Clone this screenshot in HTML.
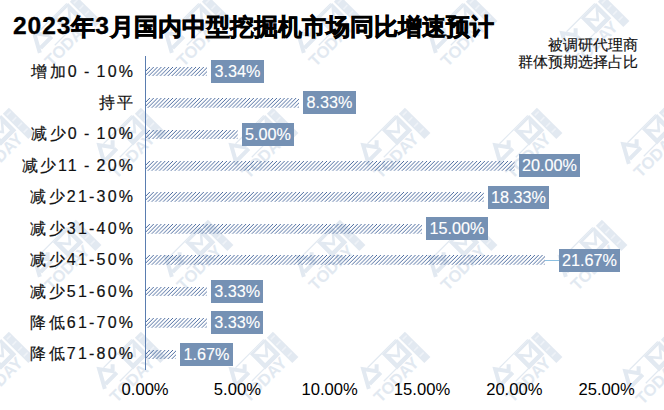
<!DOCTYPE html>
<html><head><meta charset="utf-8">
<style>
html,body{margin:0;padding:0;background:#fff;}
body{width:664px;height:410px;position:relative;overflow:hidden;font-family:"Liberation Sans",sans-serif;}
.title{position:absolute;left:13px;top:11.2px;font-size:23.6px;line-height:30px;font-weight:bold;color:#000;white-space:nowrap;-webkit-text-stroke:0.7px #000;}
.title .d{-webkit-text-stroke:0.3px #000;}
.title .c{position:relative;top:0.8px;}
.title .d{font-size:24.6px;letter-spacing:0.9px;}
.note{position:absolute;right:26.3px;top:37.3px;font-size:14.6px;line-height:17px;text-align:right;color:#111;-webkit-text-stroke:0.15px #111;}
.axis{position:absolute;left:144.9px;top:55.85px;width:1.3px;height:313.9px;background:#5a7db0;}
.cat{position:absolute;right:528.8px;height:20px;line-height:20px;font-size:16px;letter-spacing:2.2px;word-spacing:-1.6px;color:#111;white-space:nowrap;-webkit-text-stroke:0.2px #111;}
.bar{position:absolute;display:block;}
.wmk{position:absolute;left:0;top:0;}
.dl{position:absolute;height:23px;line-height:23px;padding:0 3.4px;background:#7591b4;color:#fff;font-size:16.2px;white-space:nowrap;-webkit-text-stroke:0.15px #fff;}
.leader{position:absolute;height:1px;background:#8cbfe0;}
.tick{position:absolute;top:380.3px;width:80px;text-align:center;font-size:16.6px;line-height:20px;color:#000;}
</style></head><body>
<svg width="0" height="0" style="position:absolute"><defs>
<pattern id="hatch" patternUnits="userSpaceOnUse" width="3.85" height="3.85">
<path d="M-1 1 L1 -1 M0 3.85 L3.85 0 M2.85 4.85 L4.85 2.85" stroke="#3b5d96" stroke-width="0.92" fill="none"/>
</pattern></defs></svg>
<svg class="wmk" width="664" height="410"><defs><symbol id="wm" overflow="visible">
<rect x="23.5" y="-18" width="8.5" height="36" fill="#e2e9f1"/>
<path d="M25 -14h5.5M25 -6h5.5M25 2h5.5M25 10h5.5" stroke="#eef2f7" stroke-width="1.6"/>
<rect x="1" y="-17" width="19" height="19" fill="none" stroke="#e2e9f1" stroke-width="2.5"/>
<path d="M3 -14 L10.5 -5 L18 -14 L18 0 L3 0 Z" fill="none" stroke="#e2e9f1" stroke-width="2.5"/>
<path d="M-34 -3 L-24 -21 L-16 -10 L-11 -15 M-30 -6 L-14 -6" fill="none" stroke="#e2e9f1" stroke-width="4"/>
<rect x="-20" y="-19.5" width="40" height="1.2" fill="#e2e9f1"/>
<rect x="-18" y="1.5" width="37" height="1.2" fill="#e2e9f1"/>
<text x="-36" y="15.5" font-family="Liberation Sans" font-weight="bold" font-size="16.5" fill="#e2e9f1">TODAY</text>
</symbol></defs><use href="#wm" transform="translate(66,31) rotate(-45)"/><use href="#wm" transform="translate(198,31) rotate(-45)"/><use href="#wm" transform="translate(330,31) rotate(-45)"/><use href="#wm" transform="translate(462,31) rotate(-45)"/><use href="#wm" transform="translate(594,31) rotate(-45)"/><use href="#wm" transform="translate(-1,143) rotate(-45)"/><use href="#wm" transform="translate(131,143) rotate(-45)"/><use href="#wm" transform="translate(263,143) rotate(-45)"/><use href="#wm" transform="translate(395,143) rotate(-45)"/><use href="#wm" transform="translate(527,143) rotate(-45)"/><use href="#wm" transform="translate(66,255) rotate(-45)"/><use href="#wm" transform="translate(198,255) rotate(-45)"/><use href="#wm" transform="translate(330,255) rotate(-45)"/><use href="#wm" transform="translate(462,255) rotate(-45)"/><use href="#wm" transform="translate(592,255) rotate(-45)"/><use href="#wm" transform="translate(-1,367) rotate(-45)"/><use href="#wm" transform="translate(131,367) rotate(-45)"/><use href="#wm" transform="translate(263,367) rotate(-45)"/><use href="#wm" transform="translate(395,367) rotate(-45)"/><use href="#wm" transform="translate(527,367) rotate(-45)"/><use href="#wm" transform="translate(655,142) rotate(-45)"/><use href="#wm" transform="translate(657,369) rotate(-45)"/></svg>
<div class="title"><span class="d">2023</span><span class="c">年</span><span class="d">3</span><span class="c">月国内中型挖掘机市场同比增速预计</span></div>
<div class="note">被调研代理商<br>群体预期选择占比</div>
<div class="axis"></div>
<div class="cat" style="top:61.5px">增加0 - 10%</div><svg class="bar" style="left:146.0px;top:66.6px;width:61.1px;height:9.8px"><rect width="100%" height="100%" fill="url(#hatch)"/></svg><div class="dl" style="left:211.0px;top:60.02px">3.34%</div><div class="cat" style="top:92.9px">持平</div><svg class="bar" style="left:146.0px;top:98.0px;width:153.2px;height:9.8px"><rect width="100%" height="100%" fill="url(#hatch)"/></svg><div class="dl" style="left:303.1px;top:91.44px">8.33%</div><div class="cat" style="top:124.4px">减少0 - 10%</div><svg class="bar" style="left:146.0px;top:129.5px;width:91.7px;height:9.8px"><rect width="100%" height="100%" fill="url(#hatch)"/></svg><div class="dl" style="left:241.6px;top:122.88px">5.00%</div><div class="cat" style="top:155.8px">减少11 - 20%</div><svg class="bar" style="left:146.0px;top:160.9px;width:368.6px;height:9.8px"><rect width="100%" height="100%" fill="url(#hatch)"/></svg><div class="dl" style="left:518.5px;top:154.31px">20.00%</div><div class="cat" style="top:187.2px">减少21-30%</div><svg class="bar" style="left:146.0px;top:192.3px;width:337.8px;height:9.8px"><rect width="100%" height="100%" fill="url(#hatch)"/></svg><div class="dl" style="left:487.7px;top:185.74px">18.33%</div><div class="cat" style="top:218.7px">减少31-40%</div><svg class="bar" style="left:146.0px;top:223.8px;width:276.3px;height:9.8px"><rect width="100%" height="100%" fill="url(#hatch)"/></svg><div class="dl" style="left:426.2px;top:217.17px">15.00%</div><div class="cat" style="top:250.1px">减少41-50%</div><svg class="bar" style="left:146.0px;top:255.2px;width:399.4px;height:9.8px"><rect width="100%" height="100%" fill="url(#hatch)"/></svg><div class="leader" style="left:545.4px;top:259.6px;width:13.2px"></div><div class="dl" style="left:558.6px;top:248.59px">21.67%</div><div class="cat" style="top:281.5px">减少51-60%</div><svg class="bar" style="left:146.0px;top:286.6px;width:60.9px;height:9.8px"><rect width="100%" height="100%" fill="url(#hatch)"/></svg><div class="dl" style="left:210.8px;top:280.02px">3.33%</div><div class="cat" style="top:313.0px">降低61-70%</div><svg class="bar" style="left:146.0px;top:318.1px;width:60.9px;height:9.8px"><rect width="100%" height="100%" fill="url(#hatch)"/></svg><div class="dl" style="left:210.8px;top:311.45px">3.33%</div><div class="cat" style="top:344.4px">降低71-80%</div><svg class="bar" style="left:146.0px;top:349.5px;width:30.2px;height:9.8px"><rect width="100%" height="100%" fill="url(#hatch)"/></svg><div class="dl" style="left:180.1px;top:342.88px">1.67%</div>
<div class="tick" style="left:105.1px">0.00%</div><div class="tick" style="left:197.4px">5.00%</div><div class="tick" style="left:289.7px">10.00%</div><div class="tick" style="left:382.0px">15.00%</div><div class="tick" style="left:474.3px">20.00%</div><div class="tick" style="left:566.6px">25.00%</div>
</body></html>
